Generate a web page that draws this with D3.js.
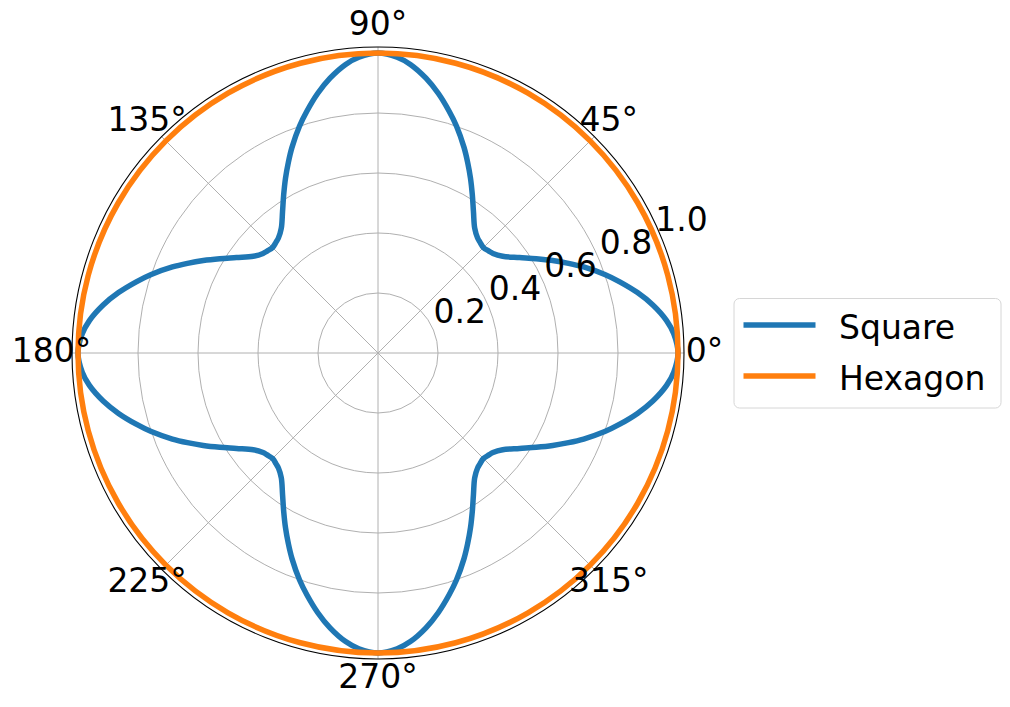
<!DOCTYPE html>
<html>
<head>
<meta charset="utf-8">
<script src="https://cdn.jsdelivr.net/npm/d3@7"></script>
<style>
  html, body { margin: 0; padding: 0; background: #ffffff; }
  svg { display: block; }
  text { font-family: "DejaVu Sans", sans-serif; }
</style>
</head>
<body>
<svg id="chart" width="1010" height="707"></svg>
<script>
// ---- data ----
const seriesNames = ["Square", "Hexagon"];

const squareTheta = [
  0, 3.7, 6.4, 9.9, 13.1, 16.4, 19.1, 22.7, 25.2, 27.9, 30.8, 34.0, 37.8, 40.9, 42.6,
  45.0, 47.4, 49.1, 52.2, 56.0, 59.2, 62.1, 64.8, 67.3, 70.9, 73.6, 76.9, 80.1, 83.6, 86.3,
  90, 93.7, 96.4, 99.9, 103.1, 106.4, 109.1, 112.7, 115.2, 117.9, 120.8, 124.0, 127.8, 130.9, 132.6,
  135.0, 137.4, 139.1, 142.2, 146.0, 149.2, 152.1, 154.8, 157.3, 160.9, 163.6, 166.9, 170.1, 173.6, 176.3,
  180, 183.7, 186.4, 189.9, 193.1, 196.4, 199.1, 202.7, 205.2, 207.9, 210.8, 214.0, 217.8, 220.9, 222.6,
  225.0, 227.4, 229.1, 232.2, 236.0, 239.2, 242.1, 244.8, 247.3, 250.9, 253.6, 256.9, 260.1, 263.6, 266.3,
  270, 273.7, 276.4, 279.9, 283.1, 286.4, 289.1, 292.7, 295.2, 297.9, 300.8, 304.0, 307.8, 310.9, 312.6,
  315.0, 317.4, 319.1, 322.2, 326.0, 329.2, 332.1, 334.8, 337.3, 340.9, 343.6, 346.9, 350.1, 353.6, 356.3
];
const squareR = [
  1.000, 0.988, 0.968, 0.930, 0.888, 0.840, 0.800, 0.743, 0.702, 0.659, 0.614, 0.569, 0.526, 0.507, 0.502,
  0.497, 0.502, 0.507, 0.526, 0.569, 0.614, 0.659, 0.702, 0.743, 0.800, 0.840, 0.888, 0.930, 0.968, 0.988,
  1.000, 0.988, 0.968, 0.930, 0.888, 0.840, 0.800, 0.743, 0.702, 0.659, 0.614, 0.569, 0.526, 0.507, 0.502,
  0.497, 0.502, 0.507, 0.526, 0.569, 0.614, 0.659, 0.702, 0.743, 0.800, 0.840, 0.888, 0.930, 0.968, 0.988,
  1.000, 0.988, 0.968, 0.930, 0.888, 0.840, 0.800, 0.743, 0.702, 0.659, 0.614, 0.569, 0.526, 0.507, 0.502,
  0.497, 0.502, 0.507, 0.526, 0.569, 0.614, 0.659, 0.702, 0.743, 0.800, 0.840, 0.888, 0.930, 0.968, 0.988,
  1.000, 0.988, 0.968, 0.930, 0.888, 0.840, 0.800, 0.743, 0.702, 0.659, 0.614, 0.569, 0.526, 0.507, 0.502,
  0.497, 0.502, 0.507, 0.526, 0.569, 0.614, 0.659, 0.702, 0.743, 0.800, 0.840, 0.888, 0.930, 0.968, 0.988
];

const hexagonTheta = [0, 15, 30, 45, 60, 75, 90, 105, 120, 135, 150, 165,
                      180, 195, 210, 225, 240, 255, 270, 285, 300, 315, 330, 345];
const hexagonR = [1.0, 1.0, 1.0, 1.0, 1.0, 1.0, 1.0, 1.0, 1.0, 1.0, 1.0, 1.0,
                  1.0, 1.0, 1.0, 1.0, 1.0, 1.0, 1.0, 1.0, 1.0, 1.0, 1.0, 1.0];

const thetaTicks = [0, 45, 90, 135, 180, 225, 270, 315];
const thetaTickLabels = ["0°", "45°", "90°", "135°", "180°", "225°", "270°", "315°"];
const rTicks = [0.2, 0.4, 0.6, 0.8, 1.0];
const rTickLabels = ["0.2", "0.4", "0.6", "0.8", "1.0"];
const rMax = 1.02;
const rLabelAngle = 22.5;

// ---- layout ----
const cx = 378, cy = 353, R = 306;
const colors = ["#1f77b4", "#ff7f0e"];
const fontSize = 33;

const svg = d3.select("#chart");
svg.append("rect").attr("width", 1010).attr("height", 707).attr("fill", "#ffffff");

const rScale = d3.scaleLinear().domain([0, rMax]).range([0, R]);
const aScale = d3.scaleLinear().domain([0, 360]).range([0, 2 * Math.PI]);
const px = (t, r) => cx + rScale(r) * Math.cos(aScale(t));
const py = (t, r) => cy - rScale(r) * Math.sin(aScale(t));

const g = svg.append("g");

// grid circles
g.selectAll("circle.grid").data(rTicks).enter().append("circle")
  .attr("cx", cx).attr("cy", cy).attr("r", d => rScale(d))
  .attr("fill", "none").attr("stroke", "#b0b0b0").attr("stroke-width", 1);

// spokes
g.selectAll("line.spoke").data(thetaTicks).enter().append("line")
  .attr("x1", cx).attr("y1", cy)
  .attr("x2", d => px(d, rMax)).attr("y2", d => py(d, rMax))
  .attr("stroke", "#b0b0b0").attr("stroke-width", 1);

// series
const lineGen = d3.line()
  .x(d => px(d.t, d.r)).y(d => py(d.t, d.r))
  .curve(d3.curveCatmullRomClosed.alpha(0.5));

const squareData = squareTheta.map((t, i) => ({t, r: squareR[i]}));
const hexagonData = hexagonTheta.map((t, i) => ({t, r: hexagonR[i]}));

g.append("path").datum(squareData).attr("d", lineGen)
  .attr("fill", "none").attr("stroke", colors[0]).attr("stroke-width", 5.5)
  .attr("stroke-linejoin", "round");
g.append("path").datum(hexagonData).attr("d", lineGen)
  .attr("fill", "none").attr("stroke", colors[1]).attr("stroke-width", 5.5)
  .attr("stroke-linejoin", "round");

// outer spine
g.append("circle").attr("cx", cx).attr("cy", cy).attr("r", rScale(rMax))
  .attr("fill", "none").attr("stroke", "#000000").attr("stroke-width", 1.1);

// theta tick labels
const labelR = R + 20.5;
g.selectAll("text.theta").data(thetaTicks).enter().append("text")
  .attr("x", d => cx + labelR * Math.cos(aScale(d)))
  .attr("y", d => cy - labelR * Math.sin(aScale(d)) + 0.26 * fontSize)
  .attr("text-anchor", "middle")
  .attr("font-size", fontSize).attr("fill", "#000")
  .text((d, i) => thetaTickLabels[i]);

// radial tick labels
g.selectAll("text.rlab").data(rTicks).enter().append("text")
  .attr("x", d => px(rLabelAngle, d))
  .attr("y", d => py(rLabelAngle, d) - 7.5)
  .attr("text-anchor", "start")
  .attr("font-size", fontSize).attr("fill", "#000")
  .text((d, i) => rTickLabels[i]);

// legend
const leg = svg.append("g");
leg.append("rect").attr("x", 734).attr("y", 298.5).attr("width", 267).attr("height", 109.5)
  .attr("rx", 5.5).attr("ry", 5.5)
  .attr("fill", "#ffffff").attr("stroke", "#d6d6d6").attr("stroke-width", 1);
const legY = [325, 376];
seriesNames.forEach((name, i) => {
  leg.append("line").attr("x1", 743.5).attr("x2", 815.5)
    .attr("y1", legY[i]).attr("y2", legY[i])
    .attr("stroke", colors[i]).attr("stroke-width", 5.5);
  leg.append("text").attr("x", 839).attr("y", legY[i] + 13.5)
    .attr("font-size", fontSize).attr("fill", "#000").text(name);
});
</script>
</body>
</html>
